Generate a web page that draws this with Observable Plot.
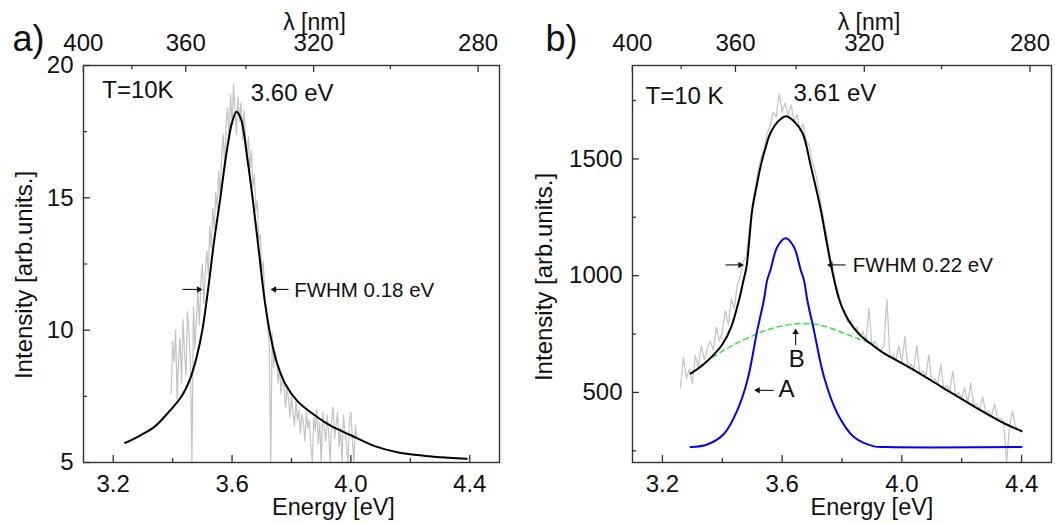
<!DOCTYPE html>
<html><head><meta charset="utf-8">
<script src="https://cdn.jsdelivr.net/npm/d3@7"></script>
<script src="https://cdn.jsdelivr.net/npm/@observablehq/plot@0.6"></script>
<style>
body{margin:0;background:#fff;}
#wrap{position:relative;width:1055px;height:523px;}
#wrap svg{position:absolute;top:0;overflow:visible;}
</style></head><body><div id="wrap"></div>
<script>
// ---- tick values ----
const lambdaMajor = [400, 360, 320, 280];
const lambdaMinor = [380, 340, 300];
const energyMajor = [3.2, 3.6, 4.0, 4.4];
const energyMinor = [3.4, 3.8, 4.2];
const yMajorA = [5, 10, 15, 20];
const yMinorA = [7.5, 12.5, 17.5];
const yMajorB = [500, 1000, 1500];
const yMinorB = [250, 750, 1250, 1750];

// ---- panel a: measured spectrum (grey) ----
const grayAE = [3.395,3.4,3.405,3.41,3.415,3.42,3.425,3.43,3.435,3.44,3.445,3.45,3.455,3.46,3.465,3.47,3.475,3.48,3.485,3.49,3.495,3.5,3.505,3.51,3.515,3.52,3.525,3.53,3.535,3.54,3.545,3.55,3.555,3.56,3.565,3.57,3.575,3.58,3.585,3.59,3.595,3.6,3.605,3.61,3.615,3.62,3.625,3.63,3.635,3.64,3.645,3.65,3.655,3.66,3.665,3.67,3.675,3.68,3.685,3.69,3.695,3.7,3.705,3.71,3.715,3.72,3.725,3.73,3.735,3.74,3.745,3.75,3.755,3.76,3.765,3.77,3.775,3.78,3.785,3.79,3.795,3.8,3.805,3.81,3.815,3.82,3.825,3.83,3.835,3.84,3.845,3.85,3.855,3.86,3.865,3.87,3.875,3.88,3.885,3.89,3.895,3.9,3.905,3.91,3.915,3.92,3.925,3.93,3.935,3.94,3.945,3.95,3.955,3.96,3.965,3.97,3.975,3.98,3.985,3.99,3.995,4.0,4.005,4.01,4.015,4.02];
const grayAI = [7.6,9.6,8.8,10.0,7.4,8.9,9.7,8.0,10.4,9.1,8.3,10.7,9.9,8.7,5.0,10.9,9.3,10.4,11.5,10.2,11.8,12.5,11.0,12.2,13.0,12.1,13.9,13.1,14.6,13.8,15.2,14.6,16.0,15.1,16.6,17.4,16.2,17.8,18.4,17.1,18.9,17.8,19.3,18.2,17.4,18.8,17.9,18.6,17.2,18.3,17.5,16.4,17.3,16.0,16.8,15.4,15.9,14.5,14.9,13.4,13.6,12.2,12.6,11.2,10.8,10.1,9.5,5.0,9.9,8.6,9.2,8.9,8.0,8.6,7.6,8.3,7.9,7.1,7.8,7.4,6.7,7.5,6.9,6.4,7.3,6.6,7.0,6.1,6.8,6.5,5.8,6.9,6.3,6.6,5.6,5.0,6.7,6.2,7.0,5.7,6.5,5.0,6.9,6.3,5.8,6.8,6.1,5.0,6.6,7.1,5.9,6.4,6.9,5.6,6.3,5.0,6.8,6.2,5.7,5.0,6.6,6.9,5.8,5.0,6.4,5.9];
// ---- panel a: fit (black) ----
const fitAE = [3.24,3.29,3.34,3.39,3.43,3.46,3.48,3.50,3.52,3.54,3.56,3.58,3.60,3.615,3.63,3.65,3.67,3.69,3.71,3.73,3.75,3.78,3.82,3.87,3.93,4.00,4.08,4.16,4.25,4.33,4.39];
const fitAI = [5.74,6.02,6.36,6.95,7.5,8.2,8.95,10.0,11.6,13.4,14.95,16.6,17.85,18.25,17.98,16.6,14.9,13.0,11.1,9.75,8.8,7.95,7.32,6.85,6.4,6.03,5.62,5.38,5.25,5.18,5.14];

// ---- panel b: measured spectrum (grey) ----
const grayBE = [3.26,3.27,3.28,3.29,3.3,3.31,3.32,3.33,3.34,3.35,3.36,3.37,3.38,3.39,3.4,3.41,3.42,3.43,3.44,3.45,3.46,3.47,3.48,3.49,3.5,3.51,3.52,3.53,3.54,3.55,3.56,3.57,3.58,3.59,3.6,3.61,3.62,3.63,3.64,3.65,3.66,3.67,3.68,3.69,3.7,3.71,3.72,3.73,3.74,3.75,3.76,3.77,3.78,3.79,3.8,3.81,3.82,3.83,3.84,3.85,3.86,3.87,3.88,3.89,3.9,3.91,3.92,3.93,3.94,3.95,3.96,3.97,3.98,3.99,4.0,4.01,4.02,4.03,4.04,4.05,4.06,4.07,4.08,4.09,4.1,4.11,4.12,4.13,4.14,4.15,4.16,4.17,4.18,4.19,4.2,4.21,4.22,4.23,4.24,4.25,4.26,4.27,4.28,4.29,4.3,4.31,4.32,4.33,4.34,4.35,4.36,4.37,4.38,4.39,4.4];
const grayBI = [520,650,560,600,540,660,610,700,640,690,720,680,780,720,760,850,790,900,860,960,1000,1060,1080,1200,1300,1380,1450,1510,1540,1610,1640,1700,1680,1780,1700,1740,1690,1730,1660,1690,1620,1650,1580,1560,1490,1450,1380,1310,1230,1170,1080,1030,960,920,860,850,800,810,770,780,740,760,720,860,700,720,690,680,700,900,650,660,640,700,625,740,605,620,600,700,580,590,570,660,545,560,535,620,515,530,505,590,485,500,475,520,455,540,445,450,430,480,415,420,400,450,385,390,375,200,360,420,350,345,330];
// ---- panel b: total fit (black) ----
const fitBE = [3.294,3.33,3.37,3.40,3.43,3.456,3.47,3.481,3.49,3.50,3.515,3.528,3.545,3.561,3.59,3.614,3.64,3.668,3.696,3.729,3.745,3.76,3.775,3.79,3.805,3.821,3.84,3.866,3.90,3.933,4.022,4.134,4.245,4.334,4.40];
const fitBI = [581,612,660,705,781,896,975,1039,1150,1282,1385,1468,1550,1611,1665,1683,1660,1611,1468,1282,1170,1067,975,900,850,810,775,738,705,674,609,523,437,373,334];
// ---- panel b: component A (blue) ----
const compAE = [3.294,3.35,3.406,3.45,3.484,3.517,3.539,3.55,3.561,3.584,3.612,3.639,3.662,3.673,3.684,3.706,3.74,3.785,3.84,3.907,3.95,4.40];
const compAI = [266,277,323,423,552,767,896,981,1024,1124,1160,1124,1024,981,896,767,566,409,309,269,266,266];
// ---- panel b: component B (green dashed) ----
const compBE = [3.294,3.35,3.406,3.45,3.506,3.55,3.595,3.662,3.729,3.796,3.851,3.885];
const compBI = [581,636,681,712,745,768,784,795,788,759,731,716];

// ---- annotations ----
const notesA = [
  {x: 3.163, y: 18.79, t: "T=10K", s: 24},
  {x: 3.663, y: 18.64, t: "3.60 eV", s: 24},
  {x: 3.809, y: 11.27, t: "FWHM 0.18 eV", s: 20.5}
];
const arrowsA = [
  {x1: 3.433, y1: 11.54, x2: 3.488, y2: 11.54, r: 90},
  {x1: 3.790, y1: 11.54, x2: 3.742, y2: 11.54, r: -90}
];
const notesB = [
  {x: 3.1435, y: 1737, t: "T=10 K", s: 24},
  {x: 3.638, y: 1750, t: "3.61 eV", s: 24},
  {x: 3.836, y: 1016, t: "FWHM 0.22 eV", s: 20.5},
  {x: 3.588, y: 479, t: "A", s: 24},
  {x: 3.622, y: 608, t: "B", s: 24}
];
const arrowsB = [
  {x1: 3.411, y1: 1046, x2: 3.460, y2: 1046, r: 90},
  {x1: 3.812, y1: 1046, x2: 3.762, y2: 1046, r: -90},
  {x1: 3.5716, y1: 509, x2: 3.519, y2: 509, r: -90},
  {x1: 3.645, y1: 702, x2: 3.645, y2: 758, r: 0}
];

const FONT = "'Liberation Sans', Arial, Helvetica, sans-serif";
const toE = l => 1239.84 / l;
const zip = (xs, ys) => xs.map((x, i) => ({x, y: ys[i]}));

function panel(o) {
  const W = o.width - o.marginLeft - o.marginRight;
  const H = 523 - 65 - 61;
  const marks = [
    Plot.line(zip(o.grayE, o.grayI), {x: "x", y: "y", stroke: "#c3c3c3", strokeWidth: 1.2})
  ];
  for (const f of o.fits) {
    marks.push(Plot.line(zip(f.e, f.i), {x: "x", y: "y", stroke: f.c, strokeWidth: f.w, curve: "catmull-rom", strokeDasharray: f.d}));
  }
  marks.push(
    Plot.frame({stroke: "#333", strokeWidth: 1.4}),
    Plot.tickX(energyMajor, {x: d => d, insetTop: H - 7, stroke: "#333", strokeWidth: 1.3}),
    Plot.tickX(energyMinor, {x: d => d, insetTop: H - 4, stroke: "#333", strokeWidth: 1.3}),
    Plot.tickX(lambdaMajor, {x: d => toE(d), insetBottom: H - 7, stroke: "#333", strokeWidth: 1.3}),
    Plot.tickX(lambdaMinor, {x: d => toE(d), insetBottom: H - 4, stroke: "#333", strokeWidth: 1.3}),
    Plot.tickY(o.yMajor, {y: d => d, insetRight: W - 7, stroke: "#333", strokeWidth: 1.3}),
    Plot.tickY(o.yMinor, {y: d => d, insetRight: W - 4, stroke: "#333", strokeWidth: 1.3}),
    Plot.text(energyMajor, {x: d => d, text: d => d.toFixed(1), frameAnchor: "bottom", dy: 29, lineAnchor: "bottom", textAnchor: "middle", fontSize: 24, fill: "#111"}),
    Plot.text(lambdaMajor, {x: d => toE(d), text: d => String(d), frameAnchor: "top", dy: -15, lineAnchor: "bottom", textAnchor: "middle", fontSize: 24, fill: "#111"}),
    Plot.text(o.yMajor, {y: d => d, text: d => String(d), frameAnchor: "left", dx: -10, textAnchor: "end", fontSize: 24, fill: "#111"}),
    Plot.text(["Energy [eV]"], {frameAnchor: "bottom", dx: o.xTitleDx, dy: 52, lineAnchor: "bottom", textAnchor: "middle", fontSize: 23.5, fill: "#111"}),
    Plot.text(["λ [nm]"], {frameAnchor: "top", dx: o.lamDx, dy: -36, lineAnchor: "bottom", textAnchor: "middle", fontSize: 23, fill: "#111"}),
    Plot.text(["Intensity [arb.units.]"], {frameAnchor: "left", dx: o.yTitleDx, dy: o.yTitleDy, rotate: -90, lineAnchor: "bottom", textAnchor: "middle", fontSize: 24, fill: "#111"}),
    Plot.text([o.tag], {frameAnchor: "top-left", dx: o.tagDx, dy: -15, textAnchor: "start", lineAnchor: "bottom", fontSize: 36, fill: "#111"}),
    Plot.text(o.notes, {x: "x", y: "y", text: "t", fontSize: "s", textAnchor: "start", lineAnchor: "bottom", fill: "#111"}),
    Plot.link(o.arrows, {x1: "x1", y1: "y1", x2: "x2", y2: "y2", stroke: "#111", strokeWidth: 1.1}),
    Plot.dot(o.arrows, {x: "x2", y: "y2", symbol: "triangle", r: 2.4, rotate: "r", fill: "#111", stroke: null})
  );
  const svg = Plot.plot({
    width: o.width, height: 523,
    marginLeft: o.marginLeft, marginRight: o.marginRight, marginTop: 65, marginBottom: 61,
    x: {domain: [3.1, 4.5], axis: null},
    y: {domain: o.yDomain, axis: null},
    style: {fontFamily: FONT, fontSize: "24px", background: "transparent", overflow: "visible"},
    marks
  });
  svg.style.left = o.left + "px";
  return svg;
}

const wrap = document.getElementById("wrap");
wrap.appendChild(panel({
  left: 0, width: 527, marginLeft: 83, marginRight: 28,
  yDomain: [5, 20], yMajor: yMajorA, yMinor: yMinorA,
  grayE: grayAE, grayI: grayAI,
  fits: [{e: fitAE, i: fitAI, c: "#000", w: 2}],
  notes: notesA, arrows: arrowsA,
  tag: "a)", tagDx: -71, lamDx: 23, xTitleDx: 42, yTitleDx: -52, yTitleDy: 11
}));
wrap.appendChild(panel({
  left: 527, width: 528, marginLeft: 105, marginRight: 4,
  yDomain: [200, 1900], yMajor: yMajorB, yMinor: yMinorB,
  grayE: grayBE, grayI: grayBI,
  fits: [
    {e: compBE, i: compBI, c: "#33e633", w: 1.5, d: "5,4"},
    {e: compAE, i: compAI, c: "#0000ff", w: 2},
    {e: fitBE, i: fitBI, c: "#000", w: 2}
  ],
  notes: notesB, arrows: arrowsB,
  tag: "b)", tagDx: -87, lamDx: 27, xTitleDx: 30, yTitleDx: -81, yTitleDy: 13
}));
</script></body></html>
